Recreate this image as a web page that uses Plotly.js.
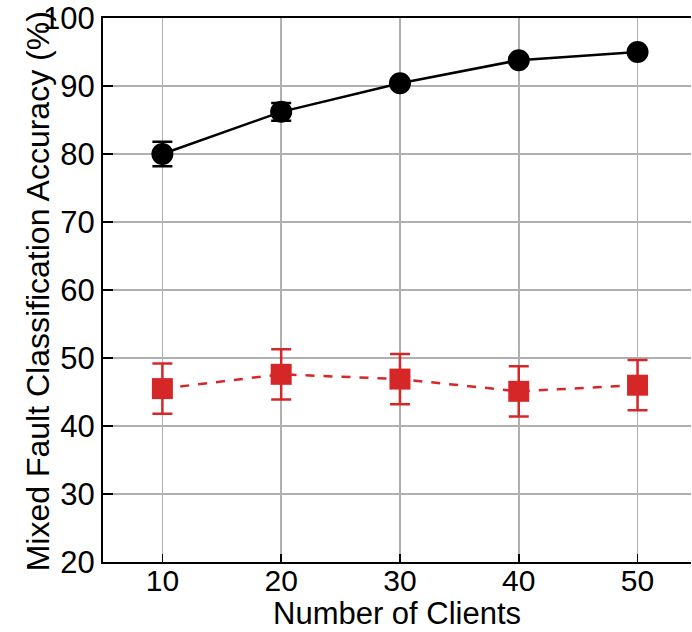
<!DOCTYPE html>
<html><head><meta charset="utf-8">
<script src="https://cdn.plot.ly/plotly-3.0.1.min.js"></script>
<style>body{margin:0;background:#fff}#c{width:692px;height:632px}</style>
</head><body><div id="c"></div>
<script>
const clients = [10, 20, 30, 40, 50];
const blackAcc = [80.0, 86.2, 90.4, 93.8, 95.0];
const blackErr = [1.8, 1.3, 0.5, 0.4, 0.3];
const redAcc = [45.5, 47.6, 46.9, 45.1, 46.0];
const redErr = [3.7, 3.7, 3.7, 3.7, 3.7];
const yTicks = [20, 30, 40, 50, 60, 70, 80, 90, 100];
const xTitle = 'Number of Clients';
const yTitle = 'Mixed Fault Classification Accuracy (%)';

const traces = [
  {x: clients, y: blackAcc, type: 'scatter', mode: 'lines+markers',
   line: {color: '#000', width: 2.5},
   marker: {symbol: 'circle', size: 22, color: '#000'},
   error_y: {type: 'data', array: blackErr, visible: true, color: '#000', thickness: 2.5, width: 10},
   showlegend: false},
  {x: clients, y: redAcc, type: 'scatter', mode: 'lines+markers',
   line: {color: '#d62728', width: 2.5, dash: 'dash'},
   marker: {symbol: 'square', size: 21, color: '#d62728'},
   error_y: {type: 'data', array: redErr, visible: true, color: '#d62728', thickness: 2.5, width: 10},
   showlegend: false}
];
const layout = {
  width: 692, height: 632,
  margin: {l: 103, r: 1, t: 18, b: 70},
  paper_bgcolor: '#fff', plot_bgcolor: '#fff',
  font: {family: 'Liberation Sans, Arial, sans-serif', size: 31, color: '#000'},
  xaxis: {range: [5, 54.5], tickvals: clients, ticks: 'inside', ticklen: 8, tickwidth: 1.5, tickcolor: '#000',
    showline: true, linecolor: '#000', linewidth: 2, mirror: true, automargin: false,
    tickfont: {size: 30}, ticklabelstandoff: -9,
    showgrid: true, gridcolor: '#b0b0b0', gridwidth: 1.5, zeroline: false},
  yaxis: {range: [20, 100], tickvals: yTicks, ticks: 'inside', ticklen: 10, tickwidth: 1.5, tickcolor: '#000',
    showline: true, linecolor: '#000', linewidth: 2, automargin: false,
    tickfont: {size: 31},
    showgrid: true, gridcolor: '#b0b0b0', gridwidth: 1.5, zeroline: false},
  annotations: [
    {text: yTitle, xref: 'paper', yref: 'paper', x: -0.111, y: 0.497,
     xanchor: 'center', yanchor: 'middle', textangle: -90, showarrow: false,
     font: {size: 32}},
    {text: xTitle, xref: 'paper', yref: 'paper', x: 0.5, y: -0.094,
     xanchor: 'center', yanchor: 'middle', showarrow: false,
     font: {size: 31}}
  ]
};
Plotly.newPlot('c', traces, layout, {displayModeBar: false, staticPlot: true});
</script></body></html>
